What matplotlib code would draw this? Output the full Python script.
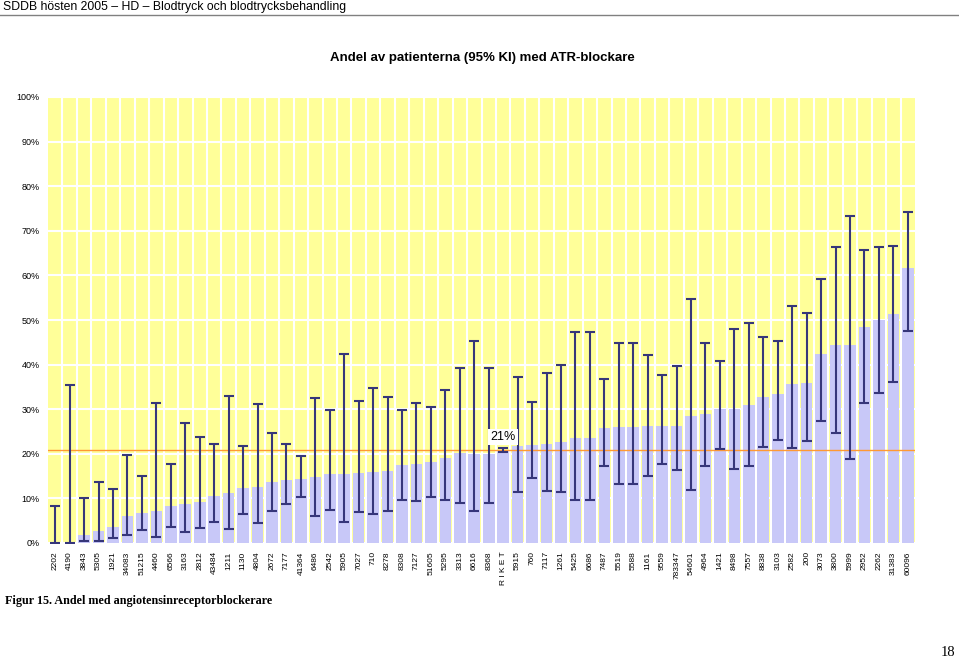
import numpy as np
import matplotlib
matplotlib.use('Agg')
import matplotlib.pyplot as plt

plt.rcParams['font.family'] = ['Liberation Sans', 'DejaVu Sans']

# Enhetskoder (kliniker), sorterade efter andel
labels = ['2202', '4190', '3843', '5305', '1921', '34083', '51215', '4460', '6566', '3163',
          '2812', '43484', '1211', '1130', '4804', '2672', '7177', '41364', '6486', '2542',
          '5905', '7027', '710', '8278', '8308', '7127', '51605', '5295', '3313', '6616',
          '8368', 'R I K E T', '5915', '760', '7117', '1261', '5425', '6686', '7487', '5519',
          '5588', '1161', '9559', '783347', '54601', '4964', '1421', '8498', '7557', '8838',
          '3103', '2582', '200', '3073', '3800', '5999', '2952', '2262', '31383', '60096']
andel = [0.0, 0.0, 1.9, 2.6, 3.6, 6.1, 6.8, 7.2, 8.2, 8.7,
         9.2, 10.5, 11.1, 12.3, 12.5, 13.7, 14.1, 14.3, 14.9, 15.5,
         15.5, 15.6, 15.9, 16.1, 17.4, 17.8, 18.2, 19.0, 20.1, 20.0,
         20.0, 20.8, 21.7, 21.9, 22.2, 22.6, 23.5, 23.5, 25.7, 25.9,
         25.9, 26.3, 26.3, 26.3, 28.5, 28.9, 30.0, 30.0, 31.0, 32.7,
         33.3, 35.6, 35.9, 42.4, 44.4, 44.4, 48.4, 50.0, 51.4, 61.7]
ki_lag = [0.0, 0.0, 0.4, 0.5, 1.1, 1.8, 3.0, 1.3, 3.6, 2.5,
          3.3, 4.6, 3.2, 6.6, 4.4, 7.2, 8.7, 10.4, 6.1, 7.4,
          4.6, 7.0, 6.5, 7.2, 9.6, 9.4, 10.4, 9.6, 9.0, 7.2,
          9.0, 20.3, 11.4, 14.5, 11.7, 11.4, 9.6, 9.6, 17.3, 13.2,
          13.2, 15.1, 17.7, 16.4, 11.8, 17.2, 21.1, 16.7, 17.3, 21.6,
          23.2, 21.2, 22.9, 27.4, 24.6, 18.9, 31.5, 33.7, 36.0, 47.5]
ki_hog = [8.4, 35.5, 10.1, 13.6, 12.2, 19.7, 15.1, 31.5, 17.7, 27.0,
          23.7, 22.3, 33.0, 21.7, 31.1, 24.7, 22.3, 19.6, 32.6, 29.8,
          42.3, 31.8, 34.8, 32.7, 29.8, 31.5, 30.4, 34.3, 39.2, 45.3,
          39.2, 21.2, 37.2, 31.7, 38.2, 40.0, 47.3, 47.3, 36.8, 44.8,
          44.8, 42.1, 37.7, 39.7, 54.7, 44.8, 40.8, 48.0, 49.3, 46.3,
          45.4, 53.1, 51.6, 59.2, 66.3, 73.4, 65.6, 66.4, 66.7, 74.3]
riket = 20.8

x = np.arange(len(labels))
andel = np.array(andel)
err = [andel - np.array(ki_lag), np.array(ki_hog) - andel]

fig = plt.figure(figsize=(9.59, 6.59), dpi=100)
ax = fig.add_axes([48/959, 1 - 543/659, (915 - 48)/959, (543 - 97)/659])

ax.set_facecolor('#ffff99')
ax.bar(x, andel, width=0.8, color='#c8c8f8', zorder=2)
ax.errorbar(x, andel, yerr=err, fmt='none', ecolor='#36367a', elinewidth=1.5,
            capsize=3.5, capthick=1.5, zorder=4)
ax.axhline(riket, color='#ff9933', lw=1, zorder=3)
ax.text(x[labels.index('R I K E T')], riket + 3, f'{riket:.0f}%', ha='center', va='center',
        fontsize=9, bbox=dict(facecolor='white', edgecolor='none', pad=1.5), zorder=5)

ax.set_xlim(-0.5, len(labels) - 0.5)
ax.set_ylim(0, 100)
ax.set_yticks(np.arange(0, 101, 10))
ax.set_yticklabels([f'{v}%' for v in range(0, 101, 10)], fontsize=6.5)
ax.set_xticks(x)
ax.set_xticklabels(labels, rotation=90, fontsize=6)
ax.set_xticks(x[:-1] + 0.5, minor=True)
ax.tick_params(axis='both', which='both', length=0, pad=6)
ax.grid(True, which='minor', axis='x', color='white', lw=1.5, zorder=1)
ax.grid(True, which='major', axis='y', color='white', lw=1.5, zorder=1)
ax.set_axisbelow(True)
for s in ax.spines.values():
    s.set_visible(False)

fig.text(482/959, 1 - 58/659, 'Andel av patienterna (95% KI) med ATR-blockare',
         ha='center', va='center', fontsize=9.5, fontweight='bold')
fig.text(3/959, 1 - 7/659, 'SDDB hösten 2005 – HD – Blodtryck och blodtrycksbehandling',
         ha='left', va='center', fontsize=8.8)
fig.add_artist(plt.Line2D([0, 1], [1 - 15/659, 1 - 15/659], color='#808080', lw=1))
fig.text(5/959, 1 - 601/659, 'Figur 15. Andel med angiotensinreceptorblockerare',
         ha='left', va='center', fontsize=8.7, fontweight='bold', family='Liberation Serif')
fig.text(948/959, 1 - 652/659, '18', ha='center', va='center', fontsize=10.5,
         family='Liberation Serif')

fig.savefig('out.png', dpi=100)
